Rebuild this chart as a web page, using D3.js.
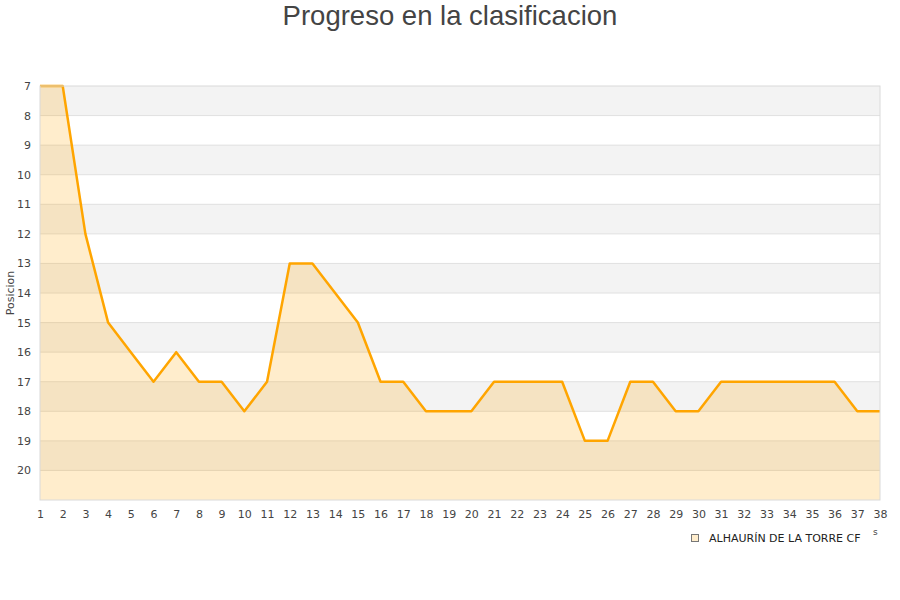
<!DOCTYPE html>
<html>
  <head>
    <meta charset="UTF-8" />
    <title>Progreso en la clasificacion</title>
    <script src="https://cdn.jsdelivr.net/npm/d3@7/dist/d3.min.js"></script>
    <style>
      body {
        margin: 0;
        background: #fff;
      }
      .tick text {
        font-family: "DejaVu Sans", sans-serif;
        font-size: 11px;
        fill: #444;
      }
    </style>
  </head>
  <body>
    <div class="chart"></div>

    <script>
      // data
      let jornadas = d3.range(1, 39);
      let posiciones = [
        7, 7, 12, 15, 16, 17, 16, 17, 17, 18, 17, 13, 13, 14, 15, 17, 17, 18,
        18, 18, 17, 17, 17, 17, 19, 19, 17, 17, 18, 18, 17, 17, 17, 17, 17, 17,
        18, 18,
      ];
      let yTicks = [7, 8, 9, 10, 11, 12, 13, 14, 15, 16, 17, 18, 19, 20];
      let equipo = "ALHAURÍN DE LA TORRE CF";

      let width = 900;
      let height = 600;
      let margin = { top: 86, right: 20, bottom: 100, left: 40 };
      let innerW = width - margin.left - margin.right;
      let innerH = height - margin.top - margin.bottom;

      let svg = d3
        .select(".chart")
        .append("svg")
        .attr("width", width)
        .attr("height", height);

      // title
      svg
        .append("text")
        .attr("x", width / 2)
        .attr("y", 25)
        .attr("text-anchor", "middle")
        .style("font-family", "'Liberation Sans', Arial, sans-serif")
        .style("font-size", "27.5px")
        .style("fill", "#444")
        .text("Progreso en la clasificacion");

      let g = svg
        .append("g")
        .attr("transform", `translate(${margin.left},${margin.top})`);

      let x = d3.scaleLinear().domain([1, 38]).range([0, innerW]);
      let y = d3.scaleLinear().domain([7, 21]).range([0, innerH]);

      // alternating bands
      g.selectAll(".band")
        .data(d3.range(7, 21))
        .enter()
        .append("rect")
        .attr("x", 0)
        .attr("y", (d) => y(d))
        .attr("width", innerW)
        .attr("height", (d) => y(d + 1) - y(d))
        .attr("fill", (d) => (d % 2 === 1 ? "#f3f3f3" : "#ffffff"));

      // grid lines
      g.selectAll(".grid")
        .data(d3.range(8, 21))
        .enter()
        .append("line")
        .attr("x1", 0)
        .attr("x2", innerW)
        .attr("y1", (d) => y(d))
        .attr("y2", (d) => y(d))
        .attr("stroke", "#e0e0e0")
        .attr("stroke-width", 1);

      // area under the line
      let area = d3
        .area()
        .x((d, i) => x(jornadas[i]))
        .y0(y(21))
        .y1((d) => y(d));

      g.append("path")
        .datum(posiciones)
        .attr("fill", "rgba(255,165,0,0.2)")
        .attr("d", area);

      let line = d3
        .line()
        .x((d, i) => x(jornadas[i]))
        .y((d) => y(d));

      g.append("path")
        .datum(posiciones)
        .attr("fill", "none")
        .attr("stroke", "#ffa500")
        .attr("stroke-width", 2.5)
        .attr("stroke-linejoin", "round")
        .attr("d", line);

      // plot border
      g.append("rect")
        .attr("x", 0)
        .attr("y", 0)
        .attr("width", innerW)
        .attr("height", innerH)
        .attr("fill", "none")
        .attr("stroke", "#dadada")
        .attr("stroke-width", 1);

      // axes
      let xAxis = g
        .append("g")
        .attr("transform", `translate(0,${innerH})`)
        .call(
          d3
            .axisBottom(x)
            .tickValues(jornadas)
            .tickFormat(d3.format("d"))
            .tickSize(0)
            .tickPadding(10)
        );
      xAxis.select(".domain").remove();

      let yAxis = g
        .append("g")
        .call(d3.axisLeft(y).tickValues(yTicks).tickSize(0).tickPadding(9));
      yAxis.select(".domain").remove();

      // y axis title
      svg
        .append("text")
        .attr("transform", `translate(14,${margin.top + innerH / 2}) rotate(-90)`)
        .attr("text-anchor", "middle")
        .style("font-family", "'DejaVu Sans', sans-serif")
        .style("font-size", "11px")
        .style("fill", "#444")
        .text("Posicion");

      // clipped x axis title remnant
      svg
        .append("text")
        .attr("x", 873)
        .attr("y", 535)
        .style("font-family", "'DejaVu Sans', sans-serif")
        .style("font-size", "9px")
        .style("fill", "#444")
        .text("s");

      // legend
      let legend = svg.append("g").attr("transform", "translate(691,534)");
      legend
        .append("rect")
        .attr("x", 0.5)
        .attr("y", 0.5)
        .attr("width", 7)
        .attr("height", 7)
        .attr("fill", "#ffedcc")
        .attr("stroke", "#777");
      legend
        .append("text")
        .attr("x", 18)
        .attr("y", 8)
        .style("font-family", "'DejaVu Sans', sans-serif")
        .style("font-size", "11px")
        .style("fill", "#222")
        .text(equipo);
    </script>
  </body>
</html>
